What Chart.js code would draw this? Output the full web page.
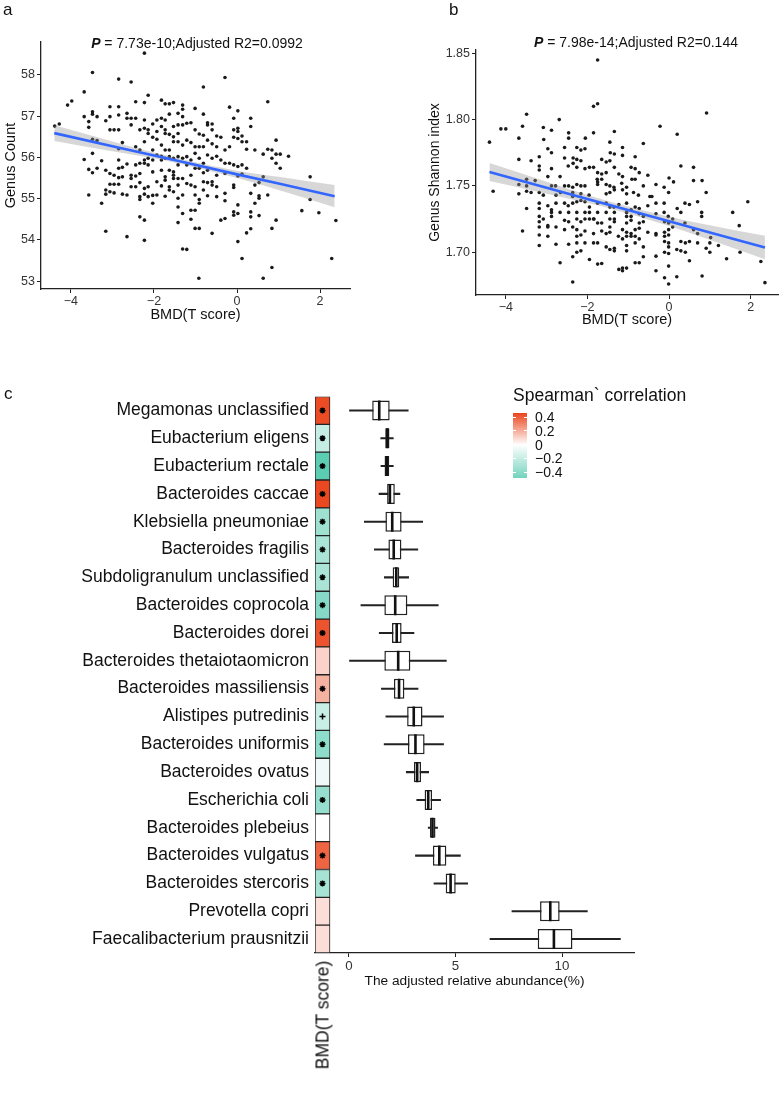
<!DOCTYPE html>
<html>
<head>
<meta charset="utf-8">
<title>BMD vs gut microbiota</title>
<script src="https://cdn.jsdelivr.net/npm/chart.js@4.4.1/dist/chart.umd.min.js"></script>
<style>
  body { margin: 0; background: #fff; }
  #fig { position: relative; width: 780px; height: 1093px; overflow: hidden;
         font-family: "Liberation Sans", Arial, sans-serif; color: #111; }
  #fig canvas { position: absolute; }
  .txt { position: absolute; white-space: nowrap; line-height: 1.2; }
</style>
</head>
<body>
<div id="fig">
  <canvas id="chartA" width="352" height="330" style="left:0;top:0"></canvas>
  <canvas id="chartB" width="360" height="340" style="left:420px;top:0"></canvas>
  <canvas id="chartC" width="640" height="620" style="left:0;top:380px"></canvas>

  <div class="txt" style="left:3px;top:0;font-size:17px">a</div>
  <div class="txt" style="left:449px;top:0;font-size:17px">b</div>
  <div class="txt" style="left:4px;top:384px;font-size:17px">c</div>
  <div class="txt" style="left:197px;top:35px;font-size:14px;transform:translateX(-50%)"><b><i>P</i></b> = 7.73e-10;Adjusted R2=0.0992</div>
  <div class="txt" style="left:636px;top:34px;font-size:14px;transform:translateX(-50%)"><b><i>P</i></b> = 7.98e-14;Adjusted R2=0.144</div>
  <div class="txt" style="left:323px;top:1015px;font-size:17.5px;transform:translate(-50%,-50%) rotate(-90deg)">BMD(T score)</div>
  <div class="txt" style="left:513px;top:385px;font-size:17.5px">Spearman` correlation</div>
  <div id="legendBar" style="position:absolute;left:513px;top:413px;width:14px;height:65px"></div>
</div>

<script>
/* ---------- panel a: genus count vs BMD ---------- */
const countPoints = [
  [-4.39,56.76],[-4.28,56.81],[-4.08,57.27],[-3.98,57.37],[-3.68,57.59],[-3.48,58.06],[-3.68,56.99],[-3.68,55.95],
  [-3.57,56.87],[-3.57,56.73],[-3.57,55.71],[-3.57,55.09],[-3.48,57.11],[-3.48,57.05],[-3.48,56.44],[-3.48,56.10],
  [-3.48,55.63],[-3.37,56.99],[-3.37,56.41],[-3.37,55.74],[-3.26,55.92],[-3.26,54.89],[-3.16,56.89],[-3.16,55.69],
  [-3.16,55.21],[-3.16,55.11],[-3.16,54.21],[-3.06,57.23],[-3.06,56.99],[-3.06,56.67],[-3.06,55.61],[-3.06,55.35],
  [-3.06,55.17],[-2.96,56.67],[-2.96,55.57],[-2.96,55.35],[-2.96,55.14],[-2.85,57.90],[-2.85,57.23],[-2.85,57.03],
  [-2.85,56.67],[-2.85,56.21],[-2.85,55.94],[-2.85,55.74],[-2.85,55.51],[-2.85,55.35],[-2.76,56.36],[-2.76,55.76],
  [-2.76,55.53],[-2.76,55.11],[-2.65,57.07],[-2.65,56.95],[-2.65,55.84],[-2.65,55.09],[-2.65,54.08],[-2.55,57.83],
  [-2.55,56.95],[-2.55,56.79],[-2.55,55.57],[-2.55,55.49],[-2.55,55.29],[-2.44,57.35],[-2.44,56.95],[-2.44,56.26],
  [-2.44,55.82],[-2.44,55.55],[-2.44,55.29],[-2.34,56.67],[-2.34,56.18],[-2.34,55.86],[-2.34,55.61],[-2.34,55.39],
  [-2.34,55.05],[-2.34,54.98],[-2.34,54.56],[-2.23,58.53],[-2.23,57.33],[-2.23,56.91],[-2.23,56.71],[-2.23,56.38],
  [-2.23,55.94],[-2.23,55.86],[-2.23,55.25],[-2.23,55.11],[-2.23,54.48],[-2.23,53.99],[-2.14,57.51],[-2.14,56.67],
  [-2.14,56.58],[-2.14,55.98],[-2.14,55.82],[-2.14,55.29],[-2.14,55.05],[-2.03,56.81],[-2.03,56.49],[-2.03,56.18],
  [-2.03,55.94],[-2.03,55.65],[-2.03,55.08],[-2.03,54.89],[-1.93,56.91],[-1.93,56.63],[-1.93,56.44],[-1.93,56.06],
  [-1.93,55.41],[-1.93,55.09],[-1.82,57.39],[-1.82,56.95],[-1.82,56.75],[-1.82,56.30],[-1.82,56.03],[-1.82,55.94],
  [-1.82,55.69],[-1.82,55.31],[-1.73,57.30],[-1.73,56.91],[-1.73,56.67],[-1.73,56.58],[-1.73,56.18],[-1.73,55.98],
  [-1.73,55.53],[-1.73,55.45],[-1.73,55.06],[-1.63,57.30],[-1.63,57.05],[-1.63,56.56],[-1.63,56.18],[-1.63,56.02],
  [-1.63,55.69],[-1.63,55.29],[-1.63,55.21],[-1.53,57.33],[-1.53,56.75],[-1.53,56.50],[-1.53,56.38],[-1.53,55.98],
  [-1.53,55.65],[-1.53,55.57],[-1.53,55.49],[-1.53,55.17],[-1.42,57.07],[-1.42,56.79],[-1.42,56.58],[-1.42,56.38],
  [-1.42,56.02],[-1.42,55.82],[-1.42,55.49],[-1.42,55.33],[-1.42,55.01],[-1.42,54.80],[-1.42,54.42],[-1.31,57.27],
  [-1.31,57.17],[-1.31,56.99],[-1.31,56.79],[-1.31,56.30],[-1.31,55.98],[-1.31,55.49],[-1.31,55.09],[-1.31,54.64],
  [-1.31,53.78],[-1.21,56.83],[-1.21,56.42],[-1.21,56.02],[-1.21,55.82],[-1.21,55.37],[-1.21,53.77],[-1.11,56.84],
  [-1.11,56.36],[-1.11,55.94],[-1.11,55.57],[-1.11,55.33],[-1.11,54.72],[-1.11,54.50],[-1.01,57.19],[-1.01,56.67],
  [-1.01,56.26],[-1.01,56.10],[-1.01,55.74],[-1.01,55.29],[-1.01,55.09],[-1.01,54.72],[-1.01,54.28],[-0.91,56.57],
  [-0.91,56.26],[-0.91,55.98],[-0.91,55.74],[-0.91,54.98],[-0.91,54.89],[-0.91,54.28],[-0.81,57.71],[-0.81,57.05],
  [-0.81,56.54],[-0.81,56.26],[-0.81,55.86],[-0.81,55.63],[-0.81,55.41],[-0.81,55.21],[-0.71,56.84],[-0.71,56.79],
  [-0.71,56.42],[-0.71,56.06],[-0.71,55.69],[-0.71,55.39],[-0.71,55.07],[-0.60,56.81],[-0.60,56.67],[-0.60,56.33],
  [-0.60,55.98],[-0.60,55.41],[-0.60,55.33],[-0.60,54.16],[-0.49,56.52],[-0.49,56.26],[-0.49,56.03],[-0.49,55.57],
  [-0.49,55.29],[-0.49,55.05],[-0.39,56.49],[-0.39,55.94],[-0.39,54.48],[-0.29,57.94],[-0.29,56.18],[-0.29,55.86],
  [-0.29,55.61],[-0.29,55.13],[-0.29,54.95],[-0.29,54.52],[-0.18,57.22],[-0.18,56.26],[-0.18,55.86],[-0.08,56.95],
  [-0.08,56.67],[-0.08,56.49],[-0.08,55.82],[-0.08,55.33],[-0.08,55.27],[-0.08,54.68],[-0.08,54.60],[0.02,57.13],
  [0.02,56.71],[0.02,56.63],[0.02,56.46],[0.02,55.78],[0.02,55.55],[0.02,54.85],[0.02,54.64],[0.02,53.96],
  [0.12,56.52],[0.12,56.38],[0.12,55.82],[0.12,55.60],[0.12,53.55],[0.23,56.38],[0.23,56.20],[0.23,55.74],
  [0.23,54.17],[0.33,56.95],[0.33,56.75],[0.33,55.13],[0.33,54.68],[0.33,54.56],[0.33,54.27],[0.43,56.18],
  [0.43,55.33],[0.43,54.89],[0.53,55.39],[0.53,55.07],[0.53,55.01],[0.53,54.59],[0.63,56.08],[0.63,55.53],
  [0.74,57.35],[0.74,56.20],[0.74,55.09],[0.84,56.18],[0.84,55.98],[0.84,54.28],[0.84,53.33],[0.94,56.42],
  [0.94,56.08],[0.94,55.86],[0.94,54.48],[1.04,56.08],[1.04,55.74],[1.24,56.03],[1.56,54.71],[1.76,55.53],
  [1.76,54.98],[1.97,54.66],[2.28,53.55],[2.38,54.47],[-0.92,53.07],[0.63,53.07]
];
const fitX = [-4.4, -3, -2, -1.3, 0, 1, 2.35];
const fitCountMid = [56.59, 56.27, 56.05, 55.89, 55.59, 55.37, 55.06];
const fitCountHigh = [56.78, 56.39, 56.12, 55.95, 55.68, 55.53, 55.33];
const fitCountLow = [56.40, 56.15, 55.98, 55.83, 55.50, 55.21, 54.79];
const bmdTicks = [-4, -2, 0, 2];
const countTicks = [53, 54, 55, 56, 57, 58];

/* ---------- panel b: Shannon index vs BMD ---------- */
const shannonPoints = [
  [-1.75,1.845],[-1.85,1.810],[-1.75,1.812],[0.92,1.805],[-3.49,1.804],[-2.69,1.800],[-4.12,1.793],[-4.00,1.793],
  [-3.59,1.795],[-3.08,1.794],[-2.88,1.792],[-0.22,1.795],[-4.40,1.783],[-3.68,1.786],[-2.46,1.790],[-2.46,1.786],
  [-2.05,1.786],[-1.85,1.790],[-1.34,1.791],[0.20,1.789],[-3.07,1.785],[-1.45,1.783],[-0.63,1.782],[-2.97,1.778],
  [-2.56,1.779],[-2.26,1.779],[-2.16,1.777],[-2.06,1.778],[-1.14,1.779],[-3.18,1.772],[-2.88,1.775],[-1.44,1.775],
  [-1.34,1.774],[-1.14,1.773],[-0.83,1.772],[-3.68,1.770],[-3.38,1.769],[-2.56,1.771],[-2.35,1.771],[-2.26,1.770],
  [-2.16,1.769],[-2.35,1.767],[-1.45,1.769],[-1.65,1.770],[-1.54,1.768],[-3.18,1.765],[-3.18,1.762],[-2.88,1.763],
  [-2.47,1.765],[-2.26,1.764],[-2.06,1.763],[-1.95,1.764],[-1.85,1.764],[-1.34,1.764],[-0.93,1.764],[-0.83,1.763],
  [0.29,1.765],[0.60,1.764],[-1.75,1.760],[-1.65,1.759],[-1.54,1.760],[-1.23,1.759],[-1.14,1.757],[-0.73,1.760],
  [-0.52,1.758],[-2.97,1.757],[-2.67,1.757],[-1.76,1.755],[-1.65,1.755],[-0.91,1.755],[-0.83,1.755],[-3.49,1.755],
  [-3.28,1.754],[0.00,1.756],[0.11,1.753],[0.60,1.754],[0.81,1.754],[-3.68,1.751],[-3.49,1.750],[-2.88,1.750],
  [-2.78,1.750],[-2.56,1.750],[-2.46,1.750],[-2.36,1.749],[-2.26,1.751],[-2.16,1.750],[-2.06,1.750],[-1.75,1.753],
  [-1.75,1.751],[-1.54,1.751],[-1.45,1.750],[-1.35,1.749],[-1.16,1.752],[-1.04,1.749],[-0.63,1.750],[-0.32,1.751],
  [-0.12,1.749],[-4.31,1.746],[-3.68,1.744],[-3.49,1.746],[-3.38,1.745],[-3.18,1.745],[-3.08,1.743],[-2.77,1.743],
  [-2.66,1.745],[-2.36,1.745],[-2.36,1.742],[-2.16,1.744],[-1.96,1.743],[-1.54,1.744],[-1.45,1.745],[-1.34,1.747],
  [-1.14,1.747],[-1.04,1.744],[-0.87,1.745],[-0.75,1.743],[-0.47,1.742],[-0.42,1.742],[-0.01,1.745],[0.91,1.745],
  [-3.49,1.733],[-3.18,1.737],[-3.18,1.733],[-2.97,1.735],[-2.88,1.732],[-2.77,1.737],[-2.56,1.737],[-2.47,1.735],
  [-2.36,1.737],[-2.26,1.738],[-2.16,1.739],[-2.06,1.738],[-1.95,1.734],[-1.75,1.737],[-1.75,1.730],[-1.54,1.737],
  [-1.45,1.734],[-1.35,1.734],[-1.23,1.736],[-1.04,1.737],[-0.83,1.734],[-0.73,1.733],[-0.52,1.735],[-0.32,1.737],
  [-0.12,1.737],[0.20,1.733],[0.39,1.737],[0.50,1.736],[0.70,1.738],[1.93,1.738],[-2.88,1.730],[-2.67,1.730],
  [-2.46,1.730],[-2.26,1.730],[-2.06,1.730],[-1.95,1.730],[-1.84,1.725],[-1.54,1.730],[-1.34,1.730],[-1.04,1.730],
  [-0.93,1.732],[-0.73,1.729],[-0.63,1.727],[-0.32,1.729],[-0.12,1.730],[-0.02,1.727],[0.29,1.730],[0.80,1.730],
  [0.80,1.727],[1.56,1.730],[-3.18,1.727],[-3.08,1.725],[-2.88,1.727],[-2.56,1.724],[-2.46,1.723],[-2.26,1.725],
  [-2.16,1.723],[-2.06,1.725],[-1.95,1.725],[-1.85,1.725],[-1.75,1.722],[-1.65,1.722],[-1.45,1.725],[-1.34,1.725],
  [-1.34,1.723],[-1.45,1.719],[-1.04,1.727],[-1.04,1.722],[-0.93,1.724],[-0.93,1.727],[-0.73,1.722],[-0.63,1.723],
  [-0.11,1.723],[-0.01,1.722],[0.09,1.725],[0.39,1.722],[-3.18,1.723],[-2.97,1.720],[-2.77,1.719],[-3.18,1.719],
  [-2.97,1.719],[-3.59,1.716],[-2.56,1.717],[-2.36,1.719],[-2.26,1.717],[-2.06,1.716],[-1.85,1.714],[-1.65,1.716],
  [-1.54,1.714],[-1.45,1.715],[-1.14,1.717],[-1.04,1.715],[-0.93,1.714],[-0.83,1.717],[-0.73,1.718],[-0.52,1.715],
  [-0.32,1.714],[-0.11,1.715],[-0.01,1.717],[0.09,1.719],[0.60,1.717],[0.70,1.714],[1.72,1.720],[-3.18,1.713],
  [-2.97,1.712],[-2.26,1.712],[-2.16,1.713],[-1.24,1.712],[-1.14,1.710],[-1.04,1.712],[-0.93,1.712],[-0.83,1.712],
  [-0.73,1.710],[-0.32,1.713],[-0.11,1.712],[-0.01,1.713],[1.02,1.711],[-3.18,1.705],[-2.77,1.706],[-2.46,1.706],
  [-2.26,1.707],[-2.06,1.707],[-1.85,1.707],[-1.75,1.707],[-1.54,1.704],[-1.45,1.702],[-1.34,1.703],[-1.04,1.705],
  [-0.83,1.707],[-0.63,1.704],[-0.11,1.708],[-0.01,1.707],[-0.01,1.704],[0.29,1.708],[0.40,1.707],[0.50,1.708],
  [0.70,1.707],[1.00,1.707],[1.21,1.705],[0.91,1.703],[0.19,1.702],[0.29,1.701],[0.40,1.700],[1.00,1.700],
  [1.74,1.700],[-0.11,1.700],[-0.01,1.699],[-2.26,1.700],[-2.16,1.701],[-1.34,1.701],[-1.04,1.701],[-2.67,1.692],
  [-2.36,1.6965],[-1.95,1.6945],[-1.75,1.691],[-1.65,1.6915],[-1.23,1.687],[-1.14,1.688],[-1.14,1.686],[-1.04,1.688],
  [-0.83,1.692],[-0.73,1.692],[-0.63,1.6965],[-0.32,1.697],[-0.32,1.686],[-0.01,1.6895],[-0.11,1.6807],[0.19,1.6815],
  [-0.01,1.676],[0.50,1.6935],[0.81,1.682],[-2.36,1.6775],[1.41,1.695],[2.25,1.693],[2.35,1.677]
];
const fitShannonMid = [1.7604, 1.7486, 1.7402, 1.7343, 1.7233, 1.7149, 1.7035];
const fitShannonHigh = [1.7672, 1.7531, 1.7432, 1.7370, 1.7268, 1.7204, 1.7123];
const fitShannonLow = [1.7536, 1.7441, 1.7372, 1.7316, 1.7198, 1.7094, 1.6947];
const shannonTicks = [1.70, 1.75, 1.80, 1.85];

/* ---------- panel c: species abundance + Spearman r ---------- */
const speciesNames = [
  'Megamonas unclassified', 'Eubacterium eligens', 'Eubacterium rectale', 'Bacteroides caccae',
  'Klebsiella pneumoniae', 'Bacteroides fragilis', 'Subdoligranulum unclassified', 'Bacteroides coprocola',
  'Bacteroides dorei', 'Bacteroides thetaiotaomicron', 'Bacteroides massiliensis', 'Alistipes putredinis',
  'Bacteroides uniformis', 'Bacteroides ovatus', 'Escherichia coli', 'Bacteroides plebeius',
  'Bacteroides vulgatus', 'Bacteroides stercoris', 'Prevotella copri', 'Faecalibacterium prausnitzii'
];
const whiskerLow = [0.00, 1.49, 1.50, 1.41, 0.72, 1.19, 1.66, 0.56, 1.42, 0.00, 1.52, 1.73, 1.65, 2.69, 3.18, 3.72, 3.12, 3.99, 7.65, 6.62];
const boxQ1 = [1.09, 1.70, 1.67, 1.79, 1.71, 1.85, 2.05, 1.66, 2.02, 1.66, 2.11, 2.73, 2.77, 3.05, 3.55, 3.80, 3.94, 4.54, 8.97, 8.86];
const boxMedian = [1.42, 1.80, 1.78, 1.92, 2.03, 2.10, 2.22, 2.17, 2.24, 2.31, 2.35, 3.04, 3.12, 3.20, 3.72, 3.92, 4.24, 4.77, 9.45, 9.62];
const boxQ3 = [1.91, 1.90, 1.89, 2.15, 2.47, 2.46, 2.36, 2.74, 2.47, 2.88, 2.60, 3.45, 3.55, 3.38, 3.90, 4.06, 4.57, 5.01, 9.89, 10.49];
const whiskerHigh = [2.78, 2.08, 2.08, 2.39, 3.46, 3.23, 2.80, 4.19, 3.05, 4.57, 3.24, 4.44, 4.44, 3.74, 4.30, 4.16, 5.23, 5.57, 11.19, 12.74];
const spearmanR = [0.44, -0.15, -0.42, 0.45, -0.25, -0.22, -0.22, -0.31, 0.42, 0.11, 0.19, -0.14, -0.29, -0.04, -0.27, 0.00, 0.38, -0.23, 0.08, 0.08];
const signifMarks = ['*', '*', '*', '*', '*', '*', '*', '*', '*', '', '*', '+', '*', '', '*', '', '*', '*', '', ''];
const abundanceTicks = [0, 5, 10];
const legendTicks = [0.4, 0.2, 0, -0.2, -0.4];

const FONT = '"Liberation Sans", Arial, sans-serif';
const INK = '#222';
const FIT_BLUE = '#3366FF';
const BAND_GREY = 'rgba(150,150,150,0.38)';
const POS_END = [234, 68, 28];
const NEG_END = [76, 199, 171];
const CORR_LIMIT = 0.46;

Chart.defaults.font.family = FONT;
Chart.defaults.color = INK;

const minus = v => (v < 0 ? '\u2212' + Math.abs(v) : String(v));
const fixTicks = values => scale => { scale.ticks = values.map(v => ({ value: v })); };
const fixWidth = w => scale => { scale.width = w; };
const fixHeight = h => scale => { scale.height = h; };
const toXY = (xs, ys) => xs.map((x, i) => ({ x, y: ys[i] }));

function corrColor(r) {
  const t = Math.min(Math.abs(r) / CORR_LIMIT, 1);
  const end = r >= 0 ? POS_END : NEG_END;
  return 'rgb(' + end.map(e => Math.round(255 - t * (255 - e))).join(',') + ')';
}

// scatter panel with lm fit + ribbon (ggplot look: axes on left/bottom only)
function scatterPanel(id, pts, mid, high, low, o) {
  const axisBase = {
    type: 'linear',
    grid: { drawOnChartArea: false, drawTicks: true, tickLength: 4, color: INK, lineWidth: 1 },
    border: { display: true, color: INK, width: 1.3 },
  };
  return new Chart(document.getElementById(id), {
    type: 'scatter',
    data: {
      datasets: [
        { type: 'line', data: toXY(fitX, mid), borderColor: FIT_BLUE, borderWidth: 2.6, pointRadius: 0, order: 0 },
        { type: 'line', data: toXY(fitX, high), fill: '+1', backgroundColor: BAND_GREY, borderWidth: 0,
          pointRadius: 0, cubicInterpolationMode: 'monotone', order: 1 },
        { type: 'line', data: toXY(fitX, low), borderWidth: 0, pointRadius: 0, cubicInterpolationMode: 'monotone', order: 2 },
        { data: pts.map(([x, y]) => ({ x, y })), pointRadius: 1.8, backgroundColor: '#1a1a1a', borderWidth: 0, order: 3 },
      ],
    },
    options: {
      responsive: false, animation: false, devicePixelRatio: 1,
      layout: { autoPadding: false, padding: { top: o.top, right: 2, left: 0, bottom: 0 } },
      plugins: { legend: { display: false }, tooltip: { enabled: false } },
      scales: {
        x: { ...axisBase, min: o.xMin, max: o.xMax, afterBuildTicks: fixTicks(bmdTicks), afterFit: fixHeight(o.xH),
             ticks: { font: { size: 12.5 }, color: '#333', padding: 1, callback: minus },
             title: { display: true, text: 'BMD(T score)', font: { size: 14.5 }, color: '#111', padding: { top: 0, bottom: o.xTitlePad } } },
        y: { ...axisBase, min: o.yMin, max: o.yMax, afterBuildTicks: fixTicks(o.yTicks), afterFit: fixWidth(o.yW),
             ticks: { font: { size: 12.5 }, color: '#333', padding: 2, callback: o.yFmt },
             title: { display: true, text: o.yTitle, font: { size: o.yTitleSize }, color: '#111', padding: { top: o.yTitlePad, bottom: 0 } } },
      },
    },
  });
}

scatterPanel('chartA', countPoints, fitCountMid, fitCountHigh, fitCountLow, {
  top: 42, xMin: -4.72, xMax: 2.72, xH: 41, xTitlePad: 6,
  yMin: 52.81, yMax: 58.8, yTicks: countTicks, yW: 41, yFmt: v => String(v),
  yTitle: 'Genus Count', yTitleSize: 14.5, yTitlePad: 2,
});

scatterPanel('chartB', shannonPoints, fitShannonMid, fitShannonHigh, fitShannonLow, {
  top: 50, xMin: -4.73, xMax: 2.67, xH: 45, xTitlePad: 11,
  yMin: 1.6677, yMax: 1.8525, yTicks: shannonTicks, yW: 56, yFmt: v => v.toFixed(2),
  yTitle: 'Genus Shannon index', yTitleSize: 14, yTitlePad: 6.5,
});

// heatmap column (on hidden axis xh) + horizontal box plots (on x)
const markRows = speciesNames.filter((n, i) => signifMarks[i]);
const markStyles = signifMarks.filter(m => m).map(m => (m === '+' ? 'cross' : 'star'));

new Chart(document.getElementById('chartC'), {
  type: 'bar',
  data: {
    labels: speciesNames,
    datasets: [
      { label: 'correlation', xAxisID: 'xh', yAxisID: 'y', data: speciesNames.map(() => [0, 1]),
        backgroundColor: spearmanR.map(corrColor), borderColor: '#222', borderWidth: 1, borderSkipped: false,
        barPercentage: 1, categoryPercentage: 1, grouped: false, order: 4 },
      { label: 'whisker', xAxisID: 'x', yAxisID: 'y', data: whiskerLow.map((v, i) => [v, whiskerHigh[i]]),
        backgroundColor: INK, barThickness: 1.4, grouped: false, order: 3 },
      { label: 'box', xAxisID: 'x', yAxisID: 'y', data: boxQ1.map((v, i) => [v, boxQ3[i]]),
        backgroundColor: '#fff', borderColor: INK, borderWidth: 1.5, borderSkipped: false,
        barPercentage: 0.72, categoryPercentage: 1, grouped: false, order: 2 },
      { type: 'line', label: 'median', xAxisID: 'x', yAxisID: 'y',
        data: boxMedian.map((v, i) => ({ x: v, y: speciesNames[i] })),
        showLine: false, pointStyle: 'line', rotation: 90, pointRadius: 10, pointHoverRadius: 10,
        borderColor: '#111', borderWidth: 2.6, order: 1 },
      { type: 'line', label: 'signif', xAxisID: 'xh', yAxisID: 'y',
        data: markRows.map(n => ({ x: 0.5, y: n })),
        showLine: false, pointStyle: markStyles, pointRadius: 3, borderColor: '#000', borderWidth: 1.5, order: 0 },
    ],
  },
  options: {
    indexAxis: 'y',
    responsive: false, animation: false, devicePixelRatio: 1,
    layout: { autoPadding: false, padding: { top: 15, right: 6, left: 0, bottom: 0 } },
    plugins: { legend: { display: false }, tooltip: { enabled: false } },
    scales: {
      x: { type: 'linear', axis: 'x', position: 'bottom', min: -1.596, max: 13.38,
           afterBuildTicks: fixTicks(abundanceTicks), afterFit: fixHeight(47),
           grid: { drawOnChartArea: false, drawTicks: true, tickLength: 4, color: INK },
           border: { display: true, color: INK, width: 1.3 },
           ticks: { font: { size: 13.3 }, color: '#333', padding: 1 },
           title: { display: true, text: 'The adjusted relative abundance(%)', font: { size: 13.7 }, color: '#111',
                    padding: { top: 0, bottom: 11 } } },
      xh: { type: 'linear', axis: 'x', display: false, min: 0, max: 21.27 },
      y: { type: 'category', axis: 'y', position: 'left', offset: true, afterFit: fixWidth(315),
           grid: { display: false, drawTicks: false }, border: { display: false },
           ticks: { font: { size: 17.5 }, color: '#111', padding: 6 } },
    },
  },
});

// colour bar legend built from the same colour map
const bar = document.getElementById('legendBar');
const barTop = 0.457, barBottom = -0.475, barH = 65;
const zeroPct = (barTop / (barTop - barBottom) * 100).toFixed(1);
bar.style.background = `linear-gradient(to bottom, ${corrColor(barTop)} 0%, #fff ${zeroPct}%, ${corrColor(-0.36)} 100%)`;
const fig = document.getElementById('fig');
legendTicks.forEach(v => {
  const y = 413 + (barTop - v) / (barTop - barBottom) * barH;
  [513, 524].forEach(x => {
    const t = document.createElement('div');
    t.style.cssText = `position:absolute;left:${x}px;top:${(y - 0.5).toFixed(1)}px;width:3px;height:1px;background:#fff`;
    fig.appendChild(t);
  });
  const lab = document.createElement('div');
  lab.className = 'txt';
  lab.style.cssText = `left:535px;top:${(y - 8.4).toFixed(1)}px;font-size:14px`;
  lab.textContent = minus(v);
  fig.appendChild(lab);
});
</script>
</body>
</html>
